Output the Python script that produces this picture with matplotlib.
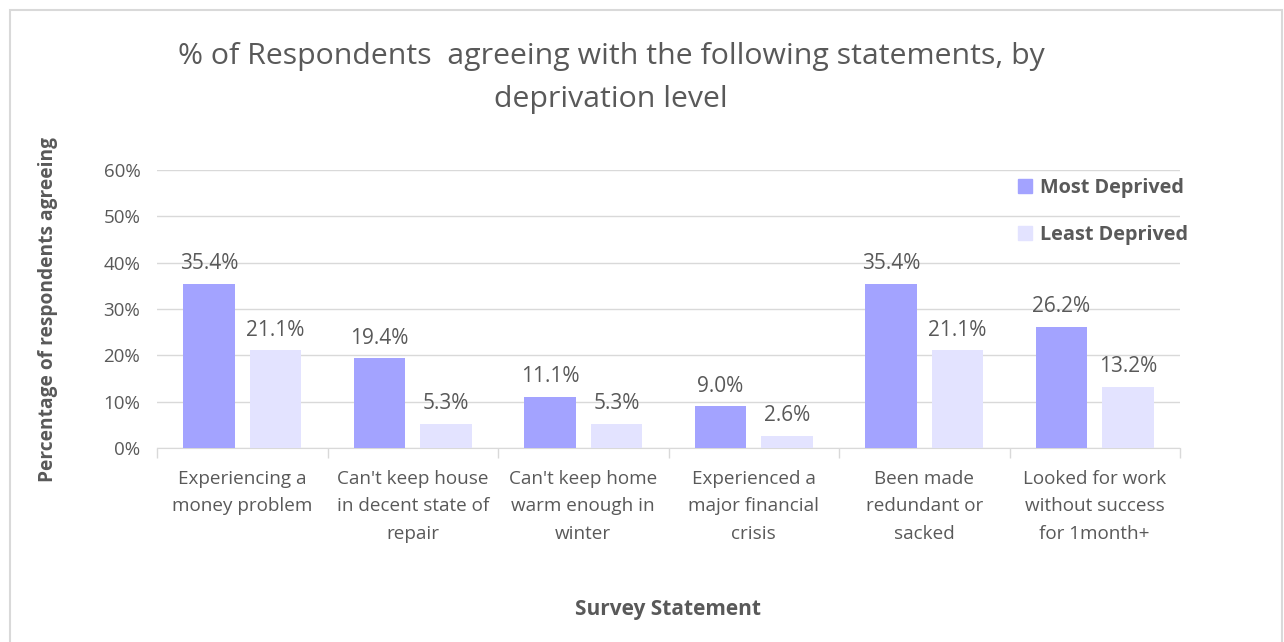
import matplotlib.pyplot as plt
import numpy as np
from matplotlib.patches import Rectangle, Patch

plt.rcParams['font.family'] = ['Open Sans', 'DejaVu Sans']

statements = ["Experiencing a\nmoney problem",
              "Can't keep house\nin decent state of\nrepair",
              "Can't keep home\nwarm enough in\nwinter",
              "Experienced a\nmajor financial\ncrisis",
              "Been made\nredundant or\nsacked",
              "Looked for work\nwithout success\nfor 1month+"]
most_deprived = [35.4, 19.4, 11.1, 9.0, 35.4, 26.2]
least_deprived = [21.1, 5.3, 5.3, 2.6, 21.1, 13.2]

grey = '#595959'
c_most = '#a3a3ff'
c_least = '#e3e3ff'

fig = plt.figure(figsize=(12.84, 6.42), dpi=100)
ax = fig.add_axes([0.1223, 0.302, 0.7967, 0.433])

# chart frame
fig.patches.append(Rectangle((10 / 1284, -0.01), 1272 / 1284, 1 - 10 / 642 + 0.01,
                             transform=fig.transFigure, fill=False,
                             edgecolor='#d9d9d9', linewidth=1.5))

x = np.arange(len(statements))
w = 0.3
off = 0.195
b1 = ax.bar(x - off, most_deprived, w, color=c_most, zorder=3)
b2 = ax.bar(x + off, least_deprived, w, color=c_least, zorder=3)

for bars, vals in ((b1, most_deprived), (b2, least_deprived)):
    for b, v in zip(bars, vals):
        ax.annotate(f"{v:.1f}%", (b.get_x() + b.get_width() / 2, v),
                    xytext=(0, 7), textcoords='offset points',
                    ha='center', va='bottom', fontsize=15, color=grey)

ax.set_xlim(-0.5, len(statements) - 0.5)
ax.set_ylim(0, 60)
ax.set_yticks(range(0, 61, 10))
ax.set_yticklabels([f"{t}%" for t in range(0, 61, 10)])
ax.yaxis.grid(True, color='#d9d9d9', linewidth=1, zorder=0)
ax.tick_params(axis='y', length=0, labelsize=13.5, labelcolor=grey, pad=12)

ax.set_xticks(x)
ax.set_xticklabels(statements, fontsize=13.6, color=grey, linespacing=1.65)
ax.set_xticks(np.arange(-0.5, len(statements)), minor=True)
ax.tick_params(axis='x', which='major', length=0, pad=16)
ax.tick_params(axis='x', which='minor', length=7, color='#d9d9d9', width=1)

for s in ('top', 'right', 'left'):
    ax.spines[s].set_visible(False)
ax.spines['bottom'].set_color('#d9d9d9')
ax.set_axisbelow(True)

ax.set_ylabel("Percentage of respondents agreeing", fontsize=13.8,
              fontweight='bold', color=grey, labelpad=33)
fig.text(668 / 1284, 1 - 609 / 642, "Survey Statement", fontsize=15,
         fontweight='bold', color=grey, ha='center', va='center')

fig.text(611 / 1284, 1 - 78 / 642,
         "% of Respondents  agreeing with the following statements, by\ndeprivation level",
         fontsize=21.8, color=grey, ha='center', va='center', linespacing=1.65)

handles = [Patch(color=c_most), Patch(color=c_least)]
leg = fig.legend(handles, ["Most Deprived", "Least Deprived"],
                 loc='upper left', bbox_to_anchor=(1000 / 1284, 1 - 160 / 642),
                 frameon=False, handlelength=0.7, handleheight=0.7,
                 handletextpad=0.4, labelspacing=1.35, prop={'size': 14.3, 'weight': 'bold'})
for t in leg.get_texts():
    t.set_color(grey)

fig.savefig('out.png', dpi=100, facecolor='white')
